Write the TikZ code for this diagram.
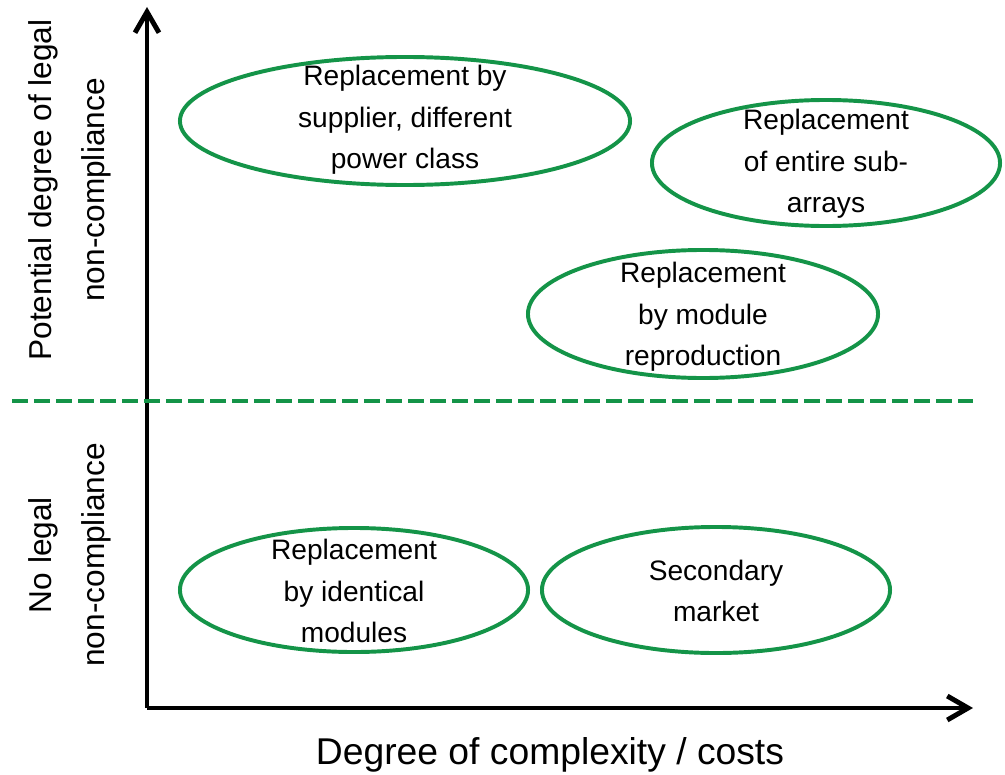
\documentclass[tikz,border=0pt]{standalone}
\usepackage{fontspec}
\setmainfont{Liberation Sans}
\usetikzlibrary{shapes.geometric,arrows.meta}
\definecolor{legalgreen}{RGB}{20,148,72}

\begin{document}
\begin{tikzpicture}[x=0.025cm,y=-0.025cm,
  bubble/.style={draw=legalgreen,line width=2.8pt,ellipse,inner sep=0pt},
  bubbletext/.style={align=center,font=\fontsize{20}{29.5}\selectfont},
  axislabel/.style={align=center,font=\fontsize{22.5}{38}\selectfont,rotate=90},
  axis/.style={line width=3.5pt,-{Straight Barb[length=5.2mm,width=6mm]}}]
\useasboundingbox (0,0) rectangle (1005,775);

% Axes
\coordinate (origin) at (147,708);
\coordinate (ytop) at (147,7);
\coordinate (xend) at (973,708);
\draw[axis] (origin) -- (ytop);
\draw[axis] (origin) -- (xend);

% Border between compliance regions
\coordinate (borderL) at (12,401);
\coordinate (borderR) at (973,401);
\draw[legalgreen,line width=3.3pt,dash pattern=on 0.4cm off 0.15cm] (borderL) -- (borderR);

% Axis labels
\node[axislabel] (potential) at (70,190) {Potential degree of legal\\non-compliance};
\node[axislabel] (nolegal) at (70,555) {No legal\\non-compliance};
\node[font=\fontsize{26.5}{30}\selectfont] (complexity) at (550,755) {Degree of complexity / costs};

% Upper region
\node[bubble,minimum width=11.25cm,minimum height=3.2cm] (supplier) at (405,121) {};
\node[bubbletext] (suppliertext) at (405,120) {Replacement by\\supplier, different\\power class};

\node[bubble,minimum width=8.7cm,minimum height=3.15cm] (subarrays) at (826,163) {};
\node[bubbletext] (subarraystext) at (826,164) {Replacement\\of entire sub-\\arrays};

\node[bubble,minimum width=8.75cm,minimum height=3.2cm] (reproduction) at (703,314) {};
\node[bubbletext] (reproductiontext) at (703,317) {Replacement\\by module\\reproduction};

% Lower region
\node[bubble,minimum width=8.7cm,minimum height=3.1cm] (identical) at (354,590) {};
\node[bubbletext] (identicaltext) at (354,591) {Replacement\\by identical\\modules};

\node[bubble,minimum width=8.7cm,minimum height=3.15cm] (secondary) at (716,590) {};
\node[bubbletext] (secondarytext) at (716,591) {Secondary\\market};
\end{tikzpicture}
\end{document}
